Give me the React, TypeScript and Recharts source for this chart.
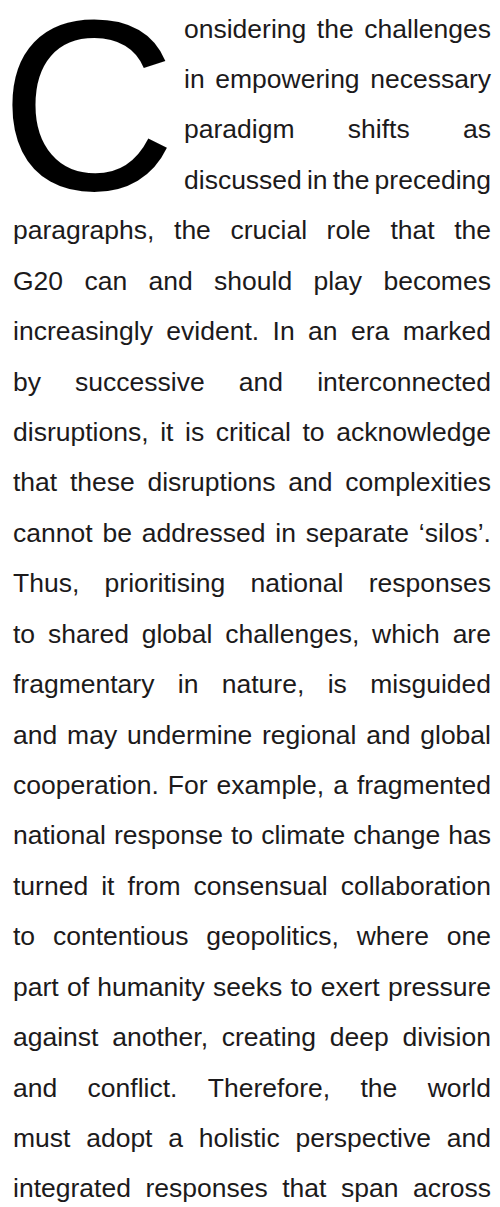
import React from "react";
import { Surface, Text } from "recharts";

// drop cap + the four short lines beside it
const dropCap = "C";
const capLines = [
  "onsidering the challenges",
  "in empowering necessary",
  "paradigm shifts as",
  "discussed in the preceding",
];

// full-width justified lines
const bodyLines = [
  "paragraphs, the crucial role that the",
  "G20 can and should play becomes",
  "increasingly evident. In an era marked",
  "by successive and interconnected",
  "disruptions, it is critical to acknowledge",
  "that these disruptions and complexities",
  "cannot be addressed in separate \u2018silos\u2019.",
  "Thus, prioritising national responses",
  "to shared global challenges, which are",
  "fragmentary in nature, is misguided",
  "and may undermine regional and global",
  "cooperation. For example, a fragmented",
  "national response to climate change has",
  "turned it from consensual collaboration",
  "to contentious geopolitics, where one",
  "part of humanity seeks to exert pressure",
  "against another, creating deep division",
  "and conflict. Therefore, the world",
  "must adopt a holistic perspective and",
  "integrated responses that span across",
];

const W = 500;
const H = 1207;
const FONT = 26.5;
const LINE = 50.43;
const FIRST_BASELINE = 38;
const LEFT = 13;
const RIGHT = 491;
const CAP_LEFT = 184;
const CAP_SIZE = 244;
const CAP_SHIFT = 50; // surface is pushed up so the glyph box is not clipped
const FAMILY = '"Liberation Sans", Arial, Helvetica, sans-serif';
const INK = "#1c1a1b";

// distance from line box top to baseline (Liberation Sans ascent .905, descent .212)
const BASE_OFFSET = (LINE - 1.117 * FONT) / 2 + 0.905 * FONT;

function JustLine({ text, index, left }: { text: string; index: number; left: number }) {
  const words = text.split(" ");
  return (
    <div
      style={{
        position: "absolute",
        left,
        width: RIGHT - left,
        top: FIRST_BASELINE + index * LINE - BASE_OFFSET,
        height: LINE,
        lineHeight: `${LINE}px`,
        display: "flex",
        justifyContent: words.length > 1 ? "space-between" : "flex-start",
        whiteSpace: "nowrap",
      }}
    >
      {words.map((w, i) => (
        <span key={i}>{w}</span>
      ))}
    </div>
  );
}

export default function App() {
  return (
    <div
      style={{
        position: "absolute",
        top: 0,
        left: 0,
        width: W,
        height: H,
        background: "#ffffff",
        overflow: "hidden",
        fontFamily: FAMILY,
        fontSize: FONT,
        color: INK,
      }}
    >
      {/* drop cap */}
      <div style={{ position: "absolute", left: 0, top: -CAP_SHIFT }}>
        <Surface width={180} height={320}>
          <Text
            x={0}
            y={189.5 + CAP_SHIFT}
            verticalAnchor="end"
            style={{ fontFamily: FAMILY, fontSize: CAP_SIZE }}
            fill="#000000"
          >
            {dropCap}
          </Text>
        </Surface>
      </div>

      {capLines.map((t, i) => (
        <JustLine key={"c" + i} text={t} index={i} left={CAP_LEFT} />
      ))}
      {bodyLines.map((t, i) => (
        <JustLine key={"b" + i} text={t} index={i + capLines.length} left={LEFT} />
      ))}
    </div>
  );
}
